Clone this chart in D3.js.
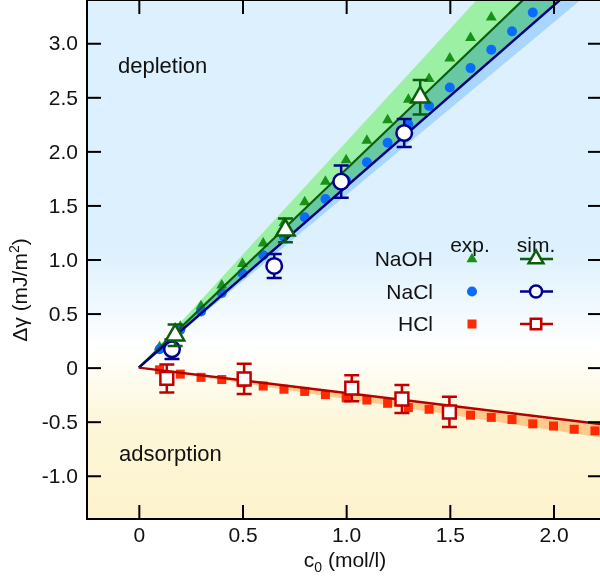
<!DOCTYPE html>
<html>
<head>
<meta charset="utf-8">
<script src="https://cdn.jsdelivr.net/npm/d3@7"></script>
<style>
    body { margin: 0; background: #fff; }
    svg { display: block; font-family: "Liberation Sans", Arial, sans-serif; }
</style>
</head>
<body>
<div id="chart"></div>
<script>
// experiment: one point every 0.1 mol/l
const expConc = [0.1, 0.2, 0.3, 0.4, 0.5, 0.6, 0.7, 0.8, 0.9, 1.0, 1.1, 1.2, 1.3, 1.4, 1.5, 1.6, 1.7, 1.8, 1.9, 2.0, 2.1, 2.2];
const naohExp = [0.19, 0.38, 0.57, 0.76, 0.96, 1.15, 1.34, 1.53, 1.72, 1.92, 2.10, 2.29, 2.48, 2.67, 2.86, 3.05, 3.24];
const naclExp = [0.17, 0.35, 0.52, 0.69, 0.87, 1.04, 1.21, 1.39, 1.56, 1.73, 1.90, 2.08, 2.25, 2.42, 2.59, 2.77, 2.94, 3.11, 3.285];
const hclExp = [-0.02, -0.06, -0.09, -0.11, -0.14, -0.17, -0.20, -0.22, -0.25, -0.28, -0.30, -0.33, -0.37, -0.385, -0.41, -0.44, -0.46, -0.48, -0.52, -0.54, -0.57, -0.585];

// simulation points with error
const naohSimC = [0.175, 0.707, 1.357];
const naohSim = [0.30, 1.27, 2.50];
const naohSimErr = [0.10, 0.11, 0.16];
const naclSimC = [0.16, 0.653, 0.976, 1.28];
const naclSim = [0.17, 0.94, 1.72, 2.17];
const naclSimErr = [0.09, 0.11, 0.15, 0.13];
const hclSimC = [0.135, 0.508, 1.027, 1.269, 1.498];
const hclSim = [-0.10, -0.105, -0.19, -0.29, -0.41];
const hclSimErr = [0.13, 0.14, 0.12, 0.13, 0.14];

// fitted lines and their bands (values at both ends of fitC)
const fitC = [0, 2.3];
const naohFit = [0, 4.22];
const naclFit = [0, 3.85];
const hclFit = [0, -0.54];
const naohBandHi = [0, 4.80];
const naohBandLo = [0, 3.85];
const naclBandHi = [0, 4.22];
const naclBandLo = [0, 3.67];
const hclBandHi = [0, -0.54];
const hclBandLo = [0, -0.667];

const xTicks = [0, 0.5, 1.0, 1.5, 2.0];
const yTicks = [-1.0, -0.5, 0, 0.5, 1.0, 1.5, 2.0, 2.5, 3.0];
const legendNames = ["NaOH", "NaCl", "HCl"];

const width = 600, height = 581;
const pLeft = 87, pRight = 602, pTop = 0, pBottom = 519;
const fs = 21;

const svg = d3.select("div#chart").append("svg")
    .attr("width", width)
    .attr("height", height);

const x = d3.scaleLinear().domain([-0.25, 2.234]).range([pLeft, pRight]);
const y = d3.scaleLinear().domain([-1.4, 3.4]).range([pBottom, pTop]);

// background gradient: blue (depletion) -> white -> yellow (adsorption)
const defs = svg.append("defs");
const grad = defs.append("linearGradient")
    .attr("id", "bg")
    .attr("x1", 0).attr("y1", 0).attr("x2", 0).attr("y2", 1);
[[0, "#dcf0fd"], [0.48, "#dcf0fd"], [0.67, "#ffffff"], [0.82, "#fdf6d8"], [1, "#fcf3cc"]].forEach(function (s) {
    grad.append("stop").attr("offset", s[0]).attr("stop-color", s[1]);
});
defs.append("clipPath").attr("id", "plot")
    .append("rect")
    .attr("x", pLeft).attr("y", pTop)
    .attr("width", pRight - pLeft).attr("height", pBottom - pTop);

svg.append("rect")
    .attr("x", pLeft).attr("y", pTop)
    .attr("width", pRight - pLeft).attr("height", pBottom - pTop)
    .attr("fill", "url(#bg)");

const g = svg.append("g").attr("clip-path", "url(#plot)");

// bands
function band(hi, lo) {
    return d3.area()
        .x(function (d, i) { return x(fitC[i]) })
        .y0(function (d, i) { return y(lo[i]) })
        .y1(function (d, i) { return y(hi[i]) })(fitC);
}
g.append("path").attr("d", band(naohBandHi, naohBandLo))
    .attr("fill", "#9cf0a4").style("mix-blend-mode", "multiply");
g.append("path").attr("d", band(naclBandHi, naclBandLo))
    .attr("fill", "#a8d6ff").style("mix-blend-mode", "multiply");
g.append("path").attr("d", band(hclBandHi, hclBandLo))
    .attr("fill", "#ffc98c");

// experimental points
const tri = d3.symbol(d3.symbolTriangle).size(52);
g.selectAll(".naoh-exp")
    .data(naohExp)
    .join("path")
    .attr("class", "naoh-exp")
    .attr("d", tri)
    .attr("transform", function (d, i) { return `translate(${x(expConc[i])},${y(d)})` })
    .attr("fill", "#179217");

g.selectAll(".nacl-exp")
    .data(naclExp)
    .join("circle")
    .attr("class", "nacl-exp")
    .attr("cx", function (d, i) { return x(expConc[i]) })
    .attr("cy", function (d) { return y(d) })
    .attr("r", 5)
    .attr("fill", "#0a6cff");

g.selectAll(".hcl-exp")
    .data(hclExp)
    .join("rect")
    .attr("class", "hcl-exp")
    .attr("x", function (d, i) { return x(expConc[i]) - 4.5 })
    .attr("y", function (d) { return y(d) - 4.5 })
    .attr("width", 9)
    .attr("height", 9)
    .attr("fill", "#ff2a00");

// fit lines
const line = d3.line()
    .x(function (d, i) { return x(fitC[i]) })
    .y(function (d) { return y(d) });
g.append("path").attr("d", line(naohFit)).attr("fill", "none").attr("stroke", "#0b5e0b").attr("stroke-width", 2.2);
g.append("path").attr("d", line(naclFit)).attr("fill", "none").attr("stroke", "#00007f").attr("stroke-width", 2.5);
g.append("path").attr("d", line(hclFit)).attr("fill", "none").attr("stroke", "#b30000").attr("stroke-width", 2.5);

// simulation markers with error bars
function simSeries(cs, vals, errs, color, sym, size) {
    const s = g.append("g");
    cs.forEach(function (c, i) {
        const cx = x(c), y0 = y(vals[i] - errs[i]), y1 = y(vals[i] + errs[i]);
        s.append("path")
            .attr("d", `M${cx},${y0}V${y1}M${cx - 7.5},${y0}H${cx + 7.5}M${cx - 7.5},${y1}H${cx + 7.5}`)
            .attr("stroke", color).attr("stroke-width", 2.5).attr("fill", "none");
        s.append("path")
            .attr("d", d3.symbol(sym).size(size)())
            .attr("transform", `translate(${cx},${y(vals[i])})`)
            .attr("fill", "white").attr("stroke", color).attr("stroke-width", 2.5);
    });
}
simSeries(hclSimC, hclSim, hclSimErr, "#c00000", d3.symbolSquare, 165);
simSeries(naclSimC, naclSim, naclSimErr, "#00008c", d3.symbolCircle, 190);
simSeries(naohSimC, naohSim, naohSimErr, "#0b5e0b", d3.symbolTriangle, 145);

// frame and inward ticks on all four sides
const fmt = function (d) { return d === 0 ? "0" : d3.format(".1f")(d).replace("\u2212", "-") };
const axes = [
    [d3.axisBottom(x).tickValues(xTicks).tickFormat(fmt).tickPadding(8), pBottom, true],
    [d3.axisTop(x).tickValues(xTicks).tickFormat(""), pTop, true],
    [d3.axisLeft(y).tickValues(yTicks).tickFormat(fmt).tickPadding(9), pLeft, false],
    [d3.axisRight(y).tickValues(yTicks).tickFormat(""), pRight, false]
];
axes.forEach(function (a) {
    const ax = svg.append("g")
        .attr("transform", a[2] ? `translate(0,${a[1]})` : `translate(${a[1]},0)`)
        .call(a[0].tickSizeInner(-14).tickSizeOuter(0));
    ax.select(".domain").remove();
    ax.selectAll("line").attr("stroke", "#000").attr("stroke-width", 2);
    ax.selectAll("text").attr("font-size", fs).attr("fill", "#111").style("font-family", "Liberation Sans, Arial, sans-serif");
});
svg.append("rect")
    .attr("x", pLeft).attr("y", pTop)
    .attr("width", pRight - pLeft).attr("height", pBottom - pTop)
    .attr("fill", "none").attr("stroke", "#000").attr("stroke-width", 2);

// region labels
svg.append("text").attr("x", 118).attr("y", 73).attr("font-size", 22).attr("fill", "#111").text("depletion");
svg.append("text").attr("x", 119).attr("y", 461).attr("font-size", 22).attr("fill", "#111").text("adsorption");

// axis titles
const xt = svg.append("text").attr("x", 345).attr("y", 567).attr("text-anchor", "middle").attr("font-size", fs).attr("fill", "#111");
xt.append("tspan").text("c");
xt.append("tspan").attr("font-size", 14).attr("dy", 5).text("0");
xt.append("tspan").attr("dy", -5).text(" (mol/l)");

const yt = svg.append("text")
    .attr("transform", "translate(27,290) rotate(-90)")
    .attr("text-anchor", "middle").attr("font-size", fs).attr("fill", "#111");
yt.append("tspan").text("\u0394\u03b3 (mJ/m");
yt.append("tspan").attr("font-size", 14).attr("dy", -8).text("2");
yt.append("tspan").attr("dy", 8).text(")");

// legend
const legend = svg.append("g");
legend.append("text").attr("x", 470).attr("y", 252).attr("text-anchor", "middle").attr("font-size", fs).attr("fill", "#111").text("exp.");
legend.append("text").attr("x", 536).attr("y", 252).attr("text-anchor", "middle").attr("font-size", fs).attr("fill", "#111").text("sim.");
const simColors = ["#0b5e0b", "#00008c", "#c00000"];
const expColors = ["#179217", "#0a6cff", "#ff2a00"];
const syms = [d3.symbolTriangle, d3.symbolCircle, d3.symbolSquare];
legendNames.forEach(function (name, i) {
    const ly = 259 + i * 32.5;
    legend.append("text").attr("x", 433).attr("y", ly + 7).attr("text-anchor", "end").attr("font-size", fs).attr("fill", "#111").text(name);
    legend.append("path").attr("d", d3.symbol(syms[i]).size([52, 80, 81][i])())
        .attr("transform", `translate(472,${ly})`).attr("fill", expColors[i]);
    legend.append("line").attr("x1", 520).attr("x2", 553).attr("y1", ly).attr("y2", ly)
        .attr("stroke", simColors[i]).attr("stroke-width", 2.5);
    legend.append("path").attr("d", d3.symbol(syms[i]).size([95, 115, 110][i])())
        .attr("transform", `translate(536,${ly})`).attr("fill", "white").attr("stroke", simColors[i]).attr("stroke-width", 2.5);
});
</script>
</body>
</html>
